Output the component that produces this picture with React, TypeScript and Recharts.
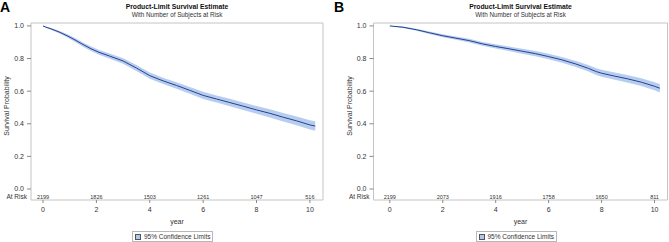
import React from 'react';
import { ComposedChart, Area, Line, XAxis, YAxis, Scatter, ReferenceArea } from 'recharts';

const yearTicks = [0, 2, 4, 6, 8, 10];
const probTicks = [0, 0.2, 0.4, 0.6, 0.8, 1.0];
const atRiskA = [2199, 1826, 1503, 1261, 1047, 516];
const atRiskB = [2199, 2073, 1916, 1758, 1650, 811];

const timesA = [0, 0.1, 0.3, 0.6, 0.9, 1.2, 1.5, 1.8, 2.1, 2.5, 3.0, 3.5, 4.0, 4.5, 5.0, 5.5, 6.0, 6.5, 7.0, 7.5, 8.0, 8.5, 9.0, 9.5, 10.0, 10.2];
const survA = [1.0, 0.993, 0.982, 0.963, 0.94, 0.914, 0.886, 0.86, 0.838, 0.815, 0.785, 0.742, 0.695, 0.663, 0.635, 0.605, 0.574, 0.552, 0.53, 0.508, 0.485, 0.464, 0.44, 0.418, 0.393, 0.386];
const lowerA = [1.0, 0.989, 0.976, 0.955, 0.93, 0.902, 0.873, 0.846, 0.823, 0.799, 0.768, 0.724, 0.676, 0.644, 0.615, 0.584, 0.552, 0.53, 0.507, 0.485, 0.461, 0.439, 0.414, 0.391, 0.365, 0.357];
const upperA = [1.0, 0.997, 0.988, 0.971, 0.95, 0.926, 0.899, 0.874, 0.853, 0.831, 0.802, 0.76, 0.714, 0.682, 0.655, 0.626, 0.596, 0.574, 0.553, 0.531, 0.509, 0.489, 0.466, 0.445, 0.421, 0.415];

const timesB = [0, 0.5, 1.0, 1.5, 2.0, 2.5, 3.0, 3.5, 4.0, 4.5, 5.0, 5.5, 6.0, 6.5, 7.0, 7.5, 7.8, 8.0, 8.5, 9.0, 9.5, 10.0, 10.2];
const survB = [1.0, 0.992, 0.977, 0.958, 0.94, 0.925, 0.91, 0.89, 0.874, 0.86, 0.845, 0.83, 0.812, 0.792, 0.768, 0.74, 0.72, 0.71, 0.692, 0.675, 0.655, 0.63, 0.618];
const lowerB = [1.0, 0.988, 0.971, 0.95, 0.931, 0.915, 0.899, 0.878, 0.861, 0.846, 0.83, 0.814, 0.795, 0.774, 0.749, 0.72, 0.699, 0.689, 0.67, 0.652, 0.631, 0.605, 0.592];
const upperB = [1.0, 0.996, 0.983, 0.966, 0.949, 0.935, 0.921, 0.902, 0.887, 0.874, 0.86, 0.846, 0.829, 0.81, 0.787, 0.76, 0.741, 0.731, 0.714, 0.698, 0.679, 0.655, 0.644];

const FONT = '"Liberation Sans", Arial, Helvetica, sans-serif';
const LINE = '#26418F';
const BAND = '#AFC8EE';
const BOX = '#C4C4C4';
const TXT = '#333333';
const AT_RISK_Y = -0.05;
const Y_DOMAIN: [number, number] = [-0.0675, 1.018];

type PanelProps = {
  letter: string;
  left: number;
  yAxisWidth: number;
  rightMargin: number;
  xDomain: [number, number];
  times: number[];
  surv: number[];
  lower: number[];
  upper: number[];
  atRisk: number[];
};

function Panel(p: PanelProps) {
  const data = p.times.map((t, i) => ({ t, s: p.surv[i], ci: [p.lower[i], p.upper[i]] }));
  const riskData = yearTicks.map((t, i) => ({ t, s: AT_RISK_Y, n: p.atRisk[i] }));
  const boxLeft = p.left + p.yAxisWidth;
  const boxRight = p.left + 335 - p.rightMargin;
  const boxCenter = (boxLeft + boxRight) / 2;
  const abs = (o: React.CSSProperties): React.CSSProperties => ({ position: 'absolute', whiteSpace: 'nowrap', fontFamily: FONT, ...o });
  return (
    <>
      <div style={{ position: 'absolute', left: p.left, top: 0 }}>
        <ComposedChart
          width={335}
          height={242}
          data={data}
          margin={{ top: 23, right: p.rightMargin, bottom: 0, left: 0 }}
        >
          <XAxis
            dataKey="t"
            type="number"
            domain={p.xDomain}
            ticks={yearTicks}
            allowDataOverflow
            axisLine={false}
            tickLine={{ stroke: '#888' }}
            tickSize={3}
            tickMargin={4}
            height={42}
            tick={{ fontSize: 7, fill: TXT, fontFamily: FONT }}
          />
          <YAxis
            type="number"
            domain={Y_DOMAIN}
            ticks={probTicks}
            allowDataOverflow
            axisLine={false}
            tickLine={{ stroke: '#888' }}
            tickSize={4}
            tickMargin={3}
            width={p.yAxisWidth}
            tickFormatter={(v: number) => v.toFixed(1)}
            tick={{ fontSize: 7, fill: TXT, fontFamily: FONT }}
          />
          <ReferenceArea
            x1={p.xDomain[0]}
            x2={p.xDomain[1]}
            y1={Y_DOMAIN[0]}
            y2={Y_DOMAIN[1]}
            fill="none"
            fillOpacity={0}
            stroke={BOX}
            strokeWidth={1}
            ifOverflow="visible"
          />
          <Area
            dataKey="ci"
            type="linear"
            stroke="none"
            fill={BAND}
            fillOpacity={0.9}
            isAnimationActive={false}
            activeDot={false}
          />
          <Line
            dataKey="s"
            type="linear"
            stroke={LINE}
            strokeWidth={1}
            dot={false}
            activeDot={false}
            isAnimationActive={false}
          />
          <Scatter
            data={riskData}
            dataKey="s"
            isAnimationActive={false}
            shape={(sp: any) => (
              <text
                x={sp.cx}
                y={sp.cy}
                textAnchor="middle"
                dominantBaseline="central"
                fontSize={5.5}
                fill={TXT}
                fontFamily={FONT}
              >
                {sp.payload.n}
              </text>
            )}
          />
        </ComposedChart>
      </div>
      <div style={abs({ left: p.left, top: 0, fontSize: 14, fontWeight: 'bold', lineHeight: '14px', color: '#000' })}>{p.letter}</div>
      <div style={abs({ left: boxCenter - 100, width: 200, top: 1.5, textAlign: 'center', fontSize: 6.8, fontWeight: 'bold', lineHeight: '10px', color: '#111' })}>
        Product-Limit Survival Estimate
      </div>
      <div style={abs({ left: boxCenter - 100, width: 200, top: 10, textAlign: 'center', fontSize: 6.3, lineHeight: '10px', color: TXT })}>
        With Number of Subjects at Risk
      </div>
      <div style={abs({ left: boxLeft - 24 - 50, width: 100, top: 101, textAlign: 'center', fontSize: 7, lineHeight: '10px', color: TXT, transform: 'rotate(-90deg)' })}>
        Survival Probability
      </div>
      <div style={abs({ left: boxLeft - 54, width: 50, top: 192, textAlign: 'right', fontSize: 6.5, lineHeight: '10px', color: TXT })}>
        At Risk
      </div>
      <div style={abs({ left: boxCenter - 30, width: 60, top: 216.5, textAlign: 'center', fontSize: 7, lineHeight: '10px', color: TXT })}>
        year
      </div>
      <div
        style={abs({
          left: boxCenter - 45,
          top: 231,
          height: 9,
          padding: '0 2px',
          border: '1px solid #B8B8B8',
          display: 'flex',
          alignItems: 'center',
          fontSize: 6.5,
          color: TXT,
          lineHeight: '9px',
        })}
      >
        <span style={{ display: 'inline-block', width: 4, height: 4, background: BAND, border: '1px solid #555', marginRight: 3 }} />
        95% Confidence Limits
      </div>
    </>
  );
}

export default function App() {
  return (
    <div style={{ position: 'absolute', left: 0, top: 0, width: 669, height: 242, background: '#fff', overflow: 'hidden' }}>
      <Panel
        letter="A"
        left={0}
        yAxisWidth={31}
        rightMargin={12}
        xDomain={[-0.45, 10.49]}
        times={timesA}
        surv={survA}
        lower={lowerA}
        upper={upperA}
        atRisk={atRiskA}
      />
      <Panel
        letter="B"
        left={334}
        yAxisWidth={39.5}
        rightMargin={1.5}
        xDomain={[-0.616, 10.49]}
        times={timesB}
        surv={survB}
        lower={lowerB}
        upper={upperB}
        atRisk={atRiskB}
      />
    </div>
  );
}
